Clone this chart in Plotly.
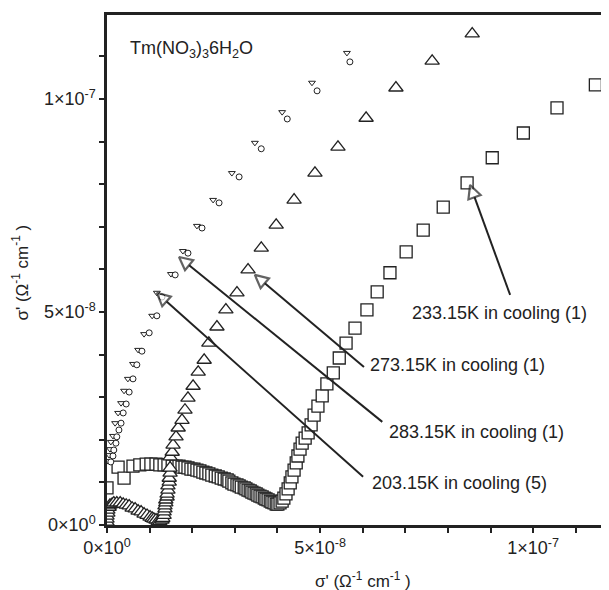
import plotly.graph_objects as go

UNIT = 1e-8  # all values below are in units of 1e-8 Ohm^-1 cm^-1

# 233.15K in cooling (1) : large squares
sq_x = [0.00, 0.26, 0.40, 0.61, 0.77, 0.92, 1.03, 1.15, 1.24, 1.34, 1.43, 1.53, 1.62, 1.69, 1.76, 1.83,
        1.90, 1.97, 2.04, 2.11, 2.18, 2.25, 2.32, 2.39, 2.46, 2.54, 2.61, 2.68, 2.75, 2.82, 2.86, 2.93,
        2.98, 3.05, 3.10, 3.15, 3.22, 3.26, 3.31, 3.36, 3.40, 3.45, 3.50, 3.54, 3.59, 3.64, 3.69, 3.73,
        3.78, 3.83, 3.87, 3.92, 3.97, 4.01, 4.06, 4.11, 4.15, 4.20, 4.25, 4.30, 4.34, 4.39, 4.44, 4.48,
        4.53, 4.58, 4.65, 4.72, 4.79, 4.86, 4.95, 5.05, 5.16, 5.31, 5.45, 5.61, 5.82, 6.10, 6.34, 6.64,
        7.02, 7.42, 7.89, 8.45, 9.04, 9.77, 10.56, 11.46]
sq_y = [0.87, 1.36, 1.10, 1.38, 1.41, 1.43, 1.43, 1.43, 1.41, 1.41, 1.41, 1.38, 1.38, 1.38, 1.36, 1.36,
        1.34, 1.31, 1.31, 1.29, 1.27, 1.24, 1.22, 1.20, 1.17, 1.15, 1.13, 1.10, 1.08, 1.06, 1.03, 0.99,
        0.96, 0.94, 0.92, 0.89, 0.87, 0.85, 0.82, 0.80, 0.77, 0.75, 0.73, 0.70, 0.68, 0.66, 0.63, 0.61,
        0.59, 0.56, 0.54, 0.52, 0.49, 0.49, 0.52, 0.56, 0.63, 0.73, 0.85, 0.99, 1.13, 1.29, 1.46, 1.62,
        1.78, 1.92, 2.04, 2.16, 2.35, 2.58, 2.79, 3.03, 3.31, 3.57, 3.92, 4.27, 4.62, 5.05, 5.47, 5.92,
        6.41, 6.92, 7.46, 8.03, 8.62, 9.20, 9.79, 10.33]

# 273.15K in cooling (1) : large triangles
tr_x = [0.00, 0.00, 0.00, 0.00, 0.02, 0.02, 0.05, 0.07, 0.12, 0.16, 0.23, 0.31, 0.38, 0.45, 0.52, 0.59,
        0.66, 0.73, 0.80, 0.87, 0.94, 1.01, 1.06, 1.10, 1.15, 1.20, 1.24, 1.29, 1.31, 1.34, 1.34, 1.36,
        1.36, 1.38, 1.38, 1.41, 1.41, 1.43, 1.43, 1.46, 1.46, 1.48, 1.48, 1.48, 1.53, 1.55, 1.62, 1.67,
        1.76, 1.83, 1.90, 2.02, 2.14, 2.28, 2.39, 2.58, 2.79, 3.05, 3.31, 3.62, 3.97, 4.39, 4.88, 5.42,
        6.08, 6.78, 7.63, 8.57]
tr_y = [0.00, 0.07, 0.14, 0.21, 0.28, 0.35, 0.42, 0.47, 0.49, 0.52, 0.52, 0.52, 0.49, 0.47, 0.45, 0.40,
        0.38, 0.33, 0.31, 0.26, 0.23, 0.19, 0.16, 0.14, 0.12, 0.09, 0.09, 0.12, 0.16, 0.23, 0.31, 0.38,
        0.45, 0.52, 0.59, 0.66, 0.73, 0.82, 0.92, 1.01, 1.10, 1.22, 1.34, 1.60, 1.71, 1.88, 2.07, 2.28,
        2.46, 2.70, 2.98, 3.26, 3.59, 3.87, 4.27, 4.65, 5.05, 5.45, 5.99, 6.50, 7.04, 7.63, 8.26, 8.87,
        9.55, 10.26, 10.89, 11.53]

# 283.15K in cooling (1) : small inverted triangles
dt_x = [0.00, 0.05, 0.07, 0.09, 0.14, 0.19, 0.26, 0.33, 0.40, 0.49, 0.61, 0.73, 0.87, 1.06, 1.17, 1.50,
        1.78, 2.11, 2.49, 2.93, 3.47, 4.11, 4.81, 5.63]
dt_y = [1.50, 1.64, 1.78, 1.95, 2.09, 2.39, 2.63, 2.86, 3.15, 3.43, 3.78, 4.11, 4.48, 4.91, 5.45, 5.89,
        6.43, 7.02, 7.63, 8.26, 8.97, 9.69, 10.38, 11.08]

# 203.15K in cooling (5) : small circles
ci_x = [0.09, 0.14, 0.16, 0.21, 0.23, 0.28, 0.33, 0.38, 0.45, 0.52, 0.61, 0.70, 0.82, 0.99, 1.17, 1.29,
        1.60, 1.90, 2.23, 2.63, 3.10, 3.62, 4.23, 4.93, 5.70]
ci_y = [1.48, 1.62, 1.76, 1.92, 2.07, 2.23, 2.39, 2.63, 2.84, 3.12, 3.43, 3.76, 4.08, 4.51, 4.91, 5.35,
        5.87, 6.38, 6.97, 7.56, 8.17, 8.83, 9.53, 10.19, 10.87]

# arrow annotations: label, text anchor (x, y), arrow tail (x, y), arrow tip (x, y)
labels = ["233.15K in cooling (1)", "273.15K in cooling (1)", "283.15K in cooling (1)", "203.15K in cooling (5)"]
label_x = [7.11, 6.13, 6.57, 6.17]
label_y = [4.98, 3.76, 2.18, 0.99]
tail_x = [9.46, 6.03, 6.46, 6.01]
tail_y = [5.40, 3.71, 2.42, 1.13]
tip_x = [8.52, 3.47, 1.69, 1.17]
tip_y = [7.98, 5.87, 6.29, 5.45]

major_ticks = [0, 5, 10]
major_text = ["0×10<sup>0</sup>", "5×10<sup>-8</sup>", "1×10<sup>-7</sup>"]
minor_ticks = [1, 2, 3, 4, 6, 7, 8, 9, 11]

INK = "#222222"
FONT = "Liberation Sans, Arial, sans-serif"
AXIS_TITLE = "σ' (Ω<sup>-1</sup> cm<sup>-1</sup> )"


def sc(v):
    return [a * UNIT for a in v]


fig = go.Figure()

fig.add_trace(go.Scatter(x=sc(sq_x), y=sc(sq_y), mode="markers", name="233.15K",
                         marker=dict(symbol="square", size=12, color="white",
                                     line=dict(color=INK, width=1.3))))
fig.add_trace(go.Scatter(x=sc(tr_x), y=sc(tr_y), mode="markers", name="273.15K",
                         marker=dict(symbol="triangle-up", size=12.5, color="white",
                                     line=dict(color=INK, width=1.3))))
fig.add_trace(go.Scatter(x=sc(dt_x), y=sc(dt_y), mode="markers", name="283.15K",
                         marker=dict(symbol="triangle-down", size=6, color="white",
                                     line=dict(color=INK, width=1))))
fig.add_trace(go.Scatter(x=sc(ci_x), y=sc(ci_y), mode="markers", name="203.15K",
                         marker=dict(symbol="circle", size=6, color="white",
                                     line=dict(color=INK, width=1))))

for i in range(len(labels)):
    fig.add_trace(go.Scatter(
        x=sc([tail_x[i], tip_x[i]]), y=sc([tail_y[i], tip_y[i]]),
        mode="lines+markers", line=dict(color=INK, width=2),
        marker=dict(symbol="arrow-up", size=[0, 13], angleref="previous",
                    color="white", line=dict(color=INK, width=2.2)),
        hoverinfo="skip"))
    fig.add_annotation(x=label_x[i] * UNIT, y=label_y[i] * UNIT, text=labels[i],
                       showarrow=False, xanchor="left", yanchor="middle",
                       font=dict(size=18, color=INK, family=FONT))

fig.add_annotation(x=0.49 * UNIT, y=11.15 * UNIT,
                   text="Tm(NO<sub>3</sub>)<sub>3</sub>6H<sub>2</sub>O",
                   showarrow=False, xanchor="left", yanchor="middle",
                   font=dict(size=18, color=INK, family=FONT))

# axis titles
fig.add_annotation(xref="paper", yref="paper", x=0.51, y=0, yshift=-55,
                   text=AXIS_TITLE, showarrow=False, xanchor="center", yanchor="middle",
                   font=dict(size=17, color=INK, family=FONT))
fig.add_annotation(xref="paper", yref="paper", x=0, y=0.495, xshift=-87,
                   text=AXIS_TITLE, showarrow=False, textangle=-90,
                   xanchor="center", yanchor="middle",
                   font=dict(size=17, color=INK, family=FONT))

axis_common = dict(showgrid=False, zeroline=False, showline=True, linecolor=INK, linewidth=2.5,
                   ticks="outside", ticklen=5, tickwidth=1.5, tickcolor=INK, automargin=False,
                   tickmode="array", tickvals=sc(major_ticks), ticktext=major_text,
                   minor=dict(tickmode="array", tickvals=sc(minor_ticks), ticks="outside",
                              ticklen=5, tickwidth=1.5, tickcolor=INK, showgrid=False),
                   tickfont=dict(size=18, color=INK, family=FONT))

fig.update_xaxes(range=[0, 11.78 * UNIT], mirror=True, **axis_common)
fig.update_yaxes(range=[0, 11.97 * UNIT], **axis_common)

# the page body adds an 8px offset, so the figure is 8px smaller than the window
fig.update_layout(width=601, height=582, showlegend=False,
                  plot_bgcolor="white", paper_bgcolor="white",
                  margin=dict(l=99, r=0, t=7, b=65),
                  font=dict(family=FONT, color=INK))

fig.write_html("out.html")
